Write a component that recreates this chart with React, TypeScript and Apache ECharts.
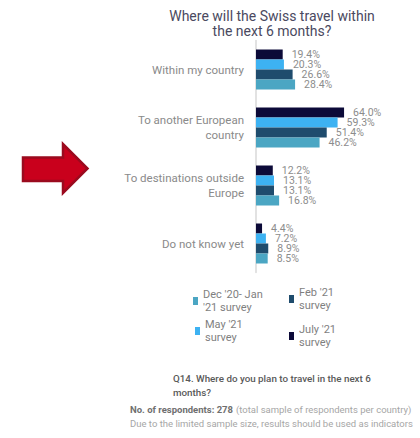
import React, { useEffect, useRef } from "react";
import * as echarts from "echarts";

const categories = [
  "Within my country",
  "To another European\ncountry",
  "To destinations outside\nEurope",
  "Do not know yet",
];
const seriesNames = ["July '21\nsurvey", "May '21\nsurvey", "Feb '21\nsurvey", "Dec '20- Jan\n'21 survey"];
const july = [19.4, 64.0, 12.2, 4.4];
const may = [20.3, 59.3, 13.1, 7.2];
const feb = [26.6, 51.4, 13.1, 8.9];
const decJan = [28.4, 46.2, 16.8, 8.5];
const colors = ["#0c0a38", "#3db2f2", "#1f4c6d", "#4ba6c3"];

const FONT = "Roboto, 'Noto Sans', sans-serif";

export default function App() {
  const ref = useRef<HTMLDivElement>(null);
  useEffect(() => {
    if (!ref.current) return;
    const chart = echarts.init(ref.current, undefined, { renderer: "svg" });
    const values = [july, may, feb, decJan];
    const legendPositions = [
      { left: 284, top: 312 }, // July
      { left: 190, top: 307 }, // May
      { left: 284, top: 275 }, // Feb
      { left: 188, top: 277 }, // Dec
    ];
    chart.setOption({
      animation: false,
      textStyle: { fontFamily: FONT },
      title: {
        text: "Where will the Swiss travel within\nthe next 6 months?",
        left: 267,
        textAlign: "center",
        top: 3,
        textStyle: { fontSize: 14, fontWeight: "normal", color: "#4a4960", lineHeight: 15, fontFamily: FONT },
      },
      legend: seriesNames.map((n, i) => ({
        data: [n],
        left: legendPositions[i].left,
        top: legendPositions[i].top,
        icon: "rect",
        itemWidth: 5,
        itemHeight: 8,
        itemGap: 5,
        selectedMode: false,
        textStyle: { fontSize: 11, color: "#7f7f7f", lineHeight: 13, padding: [12, 0, 0, 0], fontFamily: FONT },
      })),
      grid: { left: 256, top: 40.5, width: 137.6, height: 232, containLabel: false },
      xAxis: {
        type: "value",
        min: 0,
        max: 100,
        show: false,
      },
      yAxis: {
        type: "category",
        data: categories,
        inverse: true,
        axisLine: { show: true, lineStyle: { color: "#d9d9d9", width: 1.5 } },
        axisTick: { show: false },
        axisLabel: { color: "#8a8a8a", fontSize: 11.5, lineHeight: 15, margin: 12, align: "right", fontFamily: FONT },
      },
      series: seriesNames.map((n, i) => ({
        name: n,
        type: "bar",
        data: values[i],
        barWidth: 10,
        barGap: "0%",
        barCategoryGap: "31%",
        itemStyle: { color: colors[i] },
        label: {
          show: true,
          position: "right",
          distance: 9,
          color: "#8c8c8c",
          fontSize: 10.5,
          lineHeight: 10,
          fontFamily: FONT,
          formatter: (p: any) => p.value.toFixed(1) + "%",
        },
      })),
      graphic: [
        {
          type: "polygon",
          shape: {
            points: [
              [23, 157.5],
              [63, 157.5],
              [63, 144],
              [87.5, 168.5],
              [63, 193],
              [63, 181],
              [23, 181],
            ],
          },
          style: { fill: "#c9001c", stroke: "#9b0a1e", lineWidth: 2.5 },
        },
        {
          type: "text",
          left: 173,
          top: 371,
          style: {
            text: "Q14. Where do you plan to travel in the next 6\nmonths?",
            fontSize: 9.8,
            fontWeight: 500,
            lineHeight: 14,
            fill: "#595959",
            fontFamily: FONT,
          },
        },
        {
          type: "text",
          left: 130,
          top: 402,
          style: {
            text: "{b|No. of respondents: 278} {n|(total sample of respondents per country)}\n{n|Due to the limited sample size, results should be used as indicators}",
            fontFamily: FONT,
            lineHeight: 14,
            rich: {
              b: { fontSize: 9.5, fontWeight: "bold", fill: "#6f6f6f", fontFamily: FONT, lineHeight: 14 },
              n: { fontSize: 9.5, fill: "#a6a6a6", fontFamily: FONT, lineHeight: 14 },
            },
          },
        },
      ],
    });
    return () => chart.dispose();
  }, []);
  return <div ref={ref} style={{ width: 420, height: 438, position: "absolute", left: 0, top: 0 }} />;
}
